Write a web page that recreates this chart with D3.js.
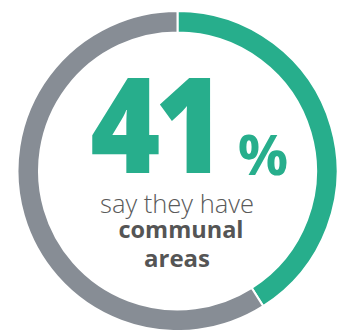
<!DOCTYPE html>
<html>
<head>
<meta charset="utf-8">
<script src="https://cdn.jsdelivr.net/npm/d3@7"></script>
<style>
  html, body { margin: 0; padding: 0; background: #ffffff; }
  svg { display: block; }
</style>
</head>
<body>
<svg id="chart" width="342" height="330"></svg>
<script>
// Share of respondents with / without communal areas
const categories = ["communal areas", "no communal areas"];
const values = [41, 59];
const colors = ["#27ae8c", "#878d95"];
const headline = "41";
const caption = ["say they have", "communal", "areas"];

const width = 342, height = 330;
const cx = 177.5, cy = 171;
const outerR = 160, innerR = 138.5;

const svg = d3.select("#chart");
const g = svg.append("g").attr("transform", `translate(${cx},${cy})`);

const pie = d3.pie().sort(null).value(d => d)(values);
const arc = d3.arc().innerRadius(innerR).outerRadius(outerR);
const color = d3.scaleOrdinal().domain(categories).range(colors);

g.selectAll("path.slice")
  .data(pie)
  .join("path")
  .attr("class", "slice")
  .attr("d", arc)
  .attr("fill", (d, i) => color(categories[i]))
  .attr("stroke", "#ffffff")
  .attr("stroke-width", 2);

const font = "'Open Sans', 'DejaVu Sans', sans-serif";

// Big percentage figure, condensed a little horizontally
svg.append("g")
  .attr("transform", "translate(155,173) scale(0.9,1)")
  .append("text")
  .attr("x", 0).attr("y", 0)
  .attr("text-anchor", "middle")
  .attr("font-family", font)
  .attr("font-weight", 800)
  .attr("font-size", 133)
  .attr("letter-spacing", -6)
  .attr("fill", colors[0])
  .text(headline);

svg.append("text")
  .attr("x", 263).attr("y", 175)
  .attr("text-anchor", "middle")
  .attr("font-family", font)
  .attr("font-weight", 700)
  .attr("font-size", 56)
  .attr("fill", colors[0])
  .text("%");

// Caption lines
svg.append("text")
  .attr("x", 177).attr("y", 213)
  .attr("text-anchor", "middle")
  .attr("font-family", font)
  .attr("font-weight", 300)
  .attr("font-size", 25.5)
  .attr("fill", "#5a5a5a")
  .text(caption[0]);

svg.append("text")
  .attr("x", 181).attr("y", 238)
  .attr("text-anchor", "middle")
  .attr("font-family", font)
  .attr("font-weight", 700)
  .attr("font-size", 23.5)
  .attr("fill", "#555555")
  .text(caption[1]);

svg.append("text")
  .attr("x", 177).attr("y", 267)
  .attr("text-anchor", "middle")
  .attr("font-family", font)
  .attr("font-weight", 700)
  .attr("font-size", 24)
  .attr("fill", "#555555")
  .text(caption[2]);
</script>
</body>
</html>
